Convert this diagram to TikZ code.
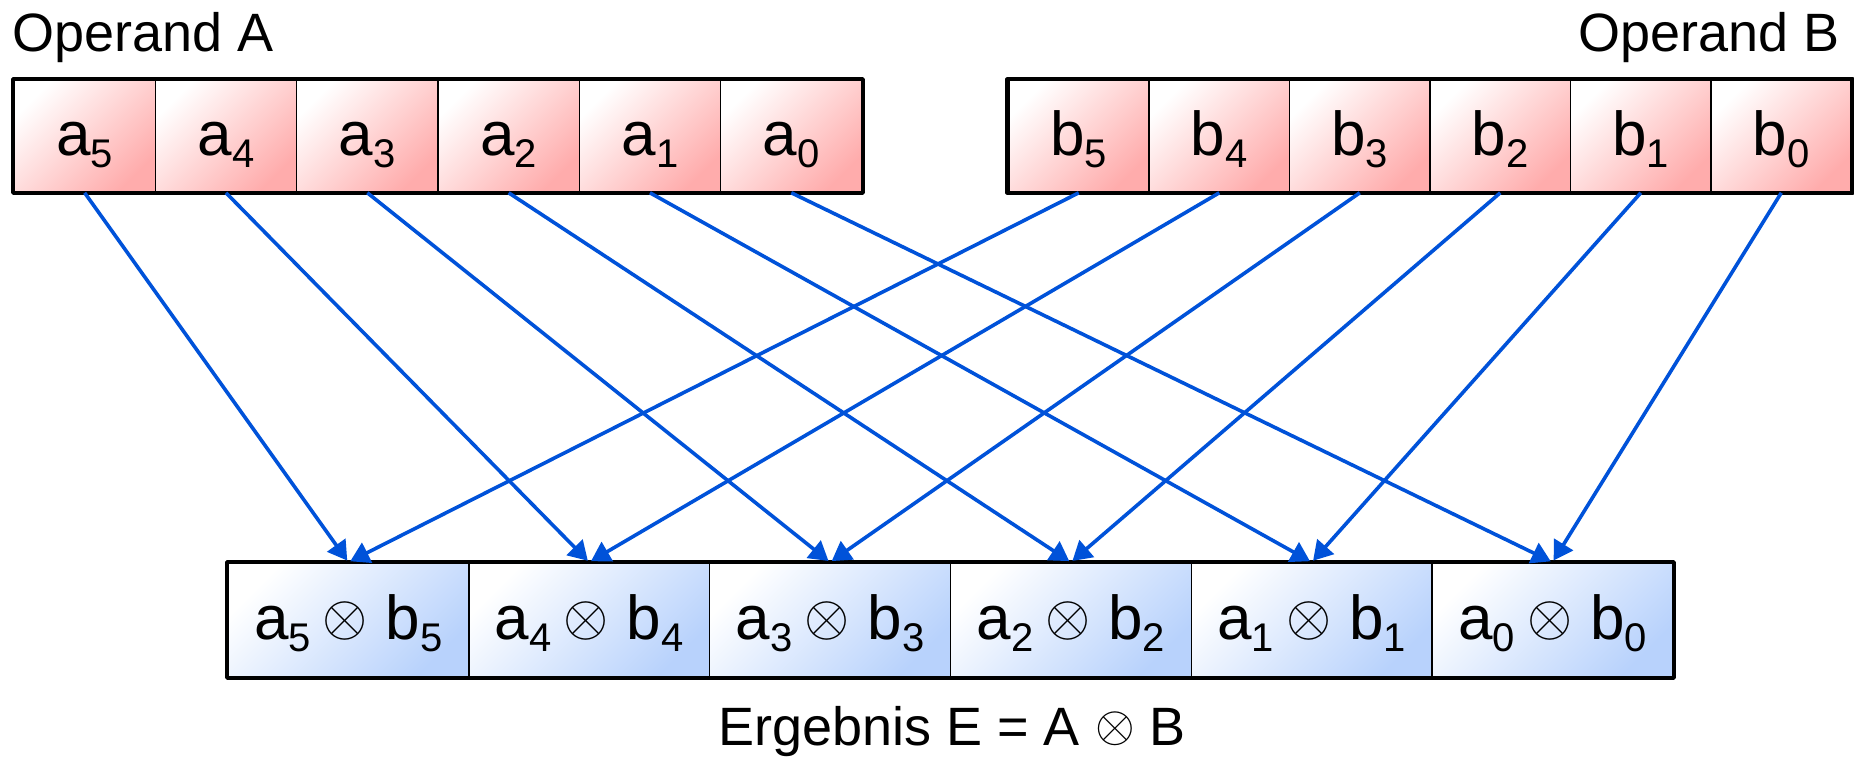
\documentclass[tikz,border=0pt]{standalone}
\usepackage{fontspec}
\setmainfont{Liberation Sans}
\usetikzlibrary{arrows.meta}
\definecolor{cellred}{RGB}{255,172,172}
\definecolor{cellblue}{RGB}{184,210,252}
\definecolor{arrblue}{RGB}{0,82,217}
\newcommand\mysub[1]{\raisebox{-12pt}{\fontsize{40}{40}\selectfont #1}}
\newcommand\otimbig{\raisebox{4pt}{\scalebox{5.8}{\normalsize$\otimes$}}}
\newcommand\otimsmall{\raisebox{4pt}{\scalebox{5.1}{\normalsize$\otimes$}}}
\tikzset{
  cellbase/.style={rectangle, draw=black, line width=1.6pt, inner sep=0pt,
    font=\fontsize{62}{62}\selectfont, text height=50pt, text depth=12pt},
  acell/.style={cellbase, minimum width=141.33pt, minimum height=112pt,
    top color=white, bottom color=cellred, shading angle=45},
  bcell/.style={cellbase, minimum width=140.5pt, minimum height=112pt,
    top color=white, bottom color=cellred, shading angle=45},
  rcell/.style={cellbase, minimum width=240.83pt, minimum height=114pt,
    top color=white, bottom color=cellblue, shading angle=45},
  frame/.style={draw=black, line width=4.5pt, line join=round},
  arr/.style={draw=arrblue, line width=3.6pt, -{Triangle[length=19pt,width=22pt]}, shorten >=2pt},
  lbl/.style={inner sep=0pt, font=\fontsize{54}{54}\selectfont}
}
\begin{document}
\begin{tikzpicture}[x=1pt,y=-1pt]
\useasboundingbox (0,0) rectangle (1854,756);
\foreach \i [count=\k from 0] in {5,4,3,2,1,0} {
  \node[acell] (a\i) at ({14+141.33*(\k+0.5)},136) {a\mysub{\i}};
  \node[bcell] (b\i) at ({1008.5+140.5*(\k+0.5)},136) {b\mysub{\i}};
  \node[rcell] (r\i) at ({228+240.83*(\k+0.5)},620) {a\mysub{\i}\hspace{12pt}\otimbig\hspace{18pt}b\mysub{\i}};
}
\draw[frame] (a5.north west) rectangle (a0.south east);
\draw[frame] (b5.north west) rectangle (b0.south east);
\draw[frame] (r5.north west) rectangle (r0.south east);
\foreach \i in {5,4,3,2,1,0} {
  \draw[arr] (a\i.south) -- (r\i.north);
  \draw[arr] (b\i.south) -- (r\i.north);
}
\node[lbl, anchor=base west] (opA) at (12,51) {Operand A};
\node[lbl, anchor=base east] (opB) at (1840,51) {Operand B};
\node[lbl, anchor=base] (erg) at (952,745) {Ergebnis E = A \otimsmall\ B};
\end{tikzpicture}
\end{document}
